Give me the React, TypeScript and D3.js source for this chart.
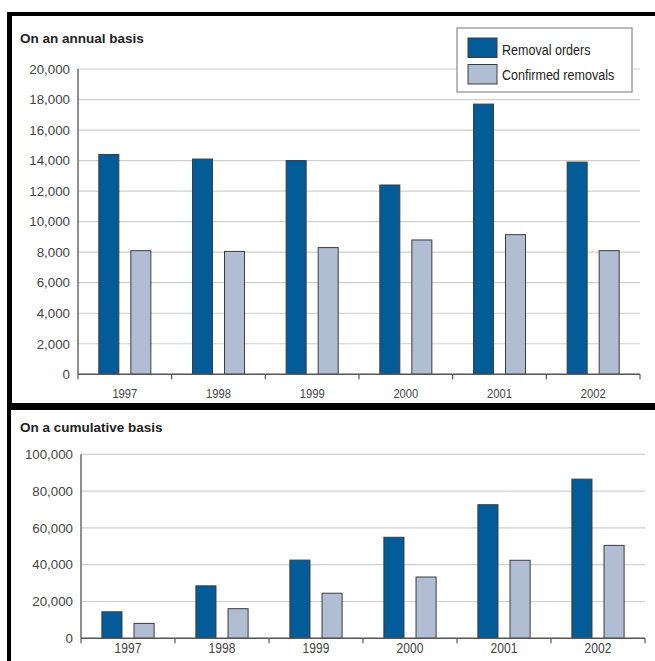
import React from "react";
import * as d3 from "d3";

const years = ["1997", "1998", "1999", "2000", "2001", "2002"];
const seriesNames = ["Removal orders", "Confirmed removals"];
const seriesColors = ["#035b97", "#b1bdd3"];
const annualOrders = [14400, 14100, 14000, 12400, 17700, 13900];
const annualRemovals = [8100, 8050, 8300, 8800, 9150, 8100];
const cumulativeOrders = [14400, 28500, 42500, 54900, 72600, 86500];
const cumulativeRemovals = [8100, 16100, 24500, 33300, 42400, 50500];
const annualTicks = [0, 2000, 4000, 6000, 8000, 10000, 12000, 14000, 16000, 18000, 20000];
const cumulativeTicks = [0, 20000, 40000, 60000, 80000, 100000];

const baseFont = "'Liberation Sans', Arial, sans-serif";
const fmt = d3.format(",");

type PanelProps = {
  title: string;
  titleY: number;
  orders: number[];
  removals: number[];
  ticks: number[];
  maxV: number;
  x0: number;
  x1: number;
  yBottom: number;
  yTop: number;
  yearFontSize: number;
  yearY: number;
};

function Panel(p: PanelProps) {
  const x = d3.scaleBand<string>().domain(years).range([p.x0, p.x1]).padding(0);
  const inner = d3
    .scaleBand<string>()
    .domain(seriesNames)
    .range([0, x.bandwidth()])
    .paddingInner(0.375)
    .paddingOuter(0.65);
  const y = d3.scaleLinear().domain([0, p.maxV]).range([p.yBottom, p.yTop]);
  const data = [p.orders, p.removals];
  const boundaries = years.map((yr) => x(yr)!).concat([p.x1]);
  return (
    <g>
      <text x={20} y={p.titleY} fontFamily={baseFont} fontWeight="bold" fontSize={13.5} fill="#222">
        {p.title}
      </text>
      {p.ticks.map((t) => (
        <g key={t}>
          {t > 0 && (
            <line x1={p.x0} x2={p.x1} y1={y(t)} y2={y(t)} stroke="#cfcfcf" strokeWidth={1.2} />
          )}
          <text
            x={p.x0 - 8}
            y={y(t)}
            dy="0.36em"
            textAnchor="end"
            fontFamily={baseFont}
            fontSize={13.3}
            fill="#444"
          >
            {fmt(t)}
          </text>
        </g>
      ))}
      {years.map((yr, i) =>
        data.map((vals, s) => (
          <rect
            key={yr + s}
            x={x(yr)! + inner(seriesNames[s])!}
            width={inner.bandwidth()}
            y={y(vals[i])}
            height={p.yBottom - y(vals[i])}
            fill={seriesColors[s]}
            stroke="#3c3c3c"
            strokeWidth={1}
          />
        ))
      )}
      <line x1={p.x0} x2={p.x0} y1={p.yBottom} y2={p.yTop} stroke="#6a6a6a" strokeWidth={1.5} />
      <line x1={p.x0} x2={p.x1} y1={p.yBottom} y2={p.yBottom} stroke="#555" strokeWidth={1.5} />
      {boundaries.map((bx, i) => (
        <line key={i} x1={bx} x2={bx} y1={p.yBottom} y2={p.yBottom + 5} stroke="#555" strokeWidth={1.2} />
      ))}
      {years.map((yr) => (
        <text
          key={yr}
          transform={`translate(${x(yr)! + x.bandwidth() / 2},${p.yearY}) scale(0.83,1)`}
          textAnchor="middle"
          fontFamily={baseFont}
          fontSize={p.yearFontSize}
          fill="#444"
        >
          {yr}
        </text>
      ))}
    </g>
  );
}

export default function App() {
  return (
    <svg
      width={655}
      height={661}
      style={{ position: "absolute", left: 0, top: 0, background: "#fff" }}
    >
      <rect x={0} y={0} width={655} height={661} fill="#fff" />
      <Panel
        title="On an annual basis"
        titleY={43}
        orders={annualOrders}
        removals={annualRemovals}
        ticks={annualTicks}
        maxV={20000}
        x0={78}
        x1={640}
        yBottom={374.3}
        yTop={69}
        yearFontSize={13.5}
        yearY={398}
      />
      <Panel
        title="On a cumulative basis"
        titleY={432}
        orders={cumulativeOrders}
        removals={cumulativeRemovals}
        ticks={cumulativeTicks}
        maxV={100000}
        x0={81}
        x1={645}
        yBottom={638.3}
        yTop={454.3}
        yearFontSize={14.5}
        yearY={653}
      />
      {/* legend */}
      <g>
        <rect x={457} y={28} width={175} height={64} fill="#fff" stroke="#8a8a8a" strokeWidth={1.2} />
        {seriesNames.map((n, i) => (
          <g key={n}>
            <rect
              x={468}
              y={38 + i * 26.5}
              width={29}
              height={19.5}
              fill={seriesColors[i]}
              stroke="#3c3c3c"
              strokeWidth={1}
            />
            <text
              transform={`translate(502,${55 + i * 25}) scale(0.82,1)`}
              fontFamily={baseFont}
              fontSize={15.3}
              fill="#222"
            >
              {n}
            </text>
          </g>
        ))}
      </g>
      {/* panel frames */}
      <rect x={7} y={12} width={648} height={4} fill="#000" />
      <rect x={7} y={12} width={5} height={398} fill="#000" />
      <rect x={7} y={403} width={648} height={7} fill="#000" />
      <rect x={7} y={410} width={4} height={251} fill="#000" />
    </svg>
  );
}
